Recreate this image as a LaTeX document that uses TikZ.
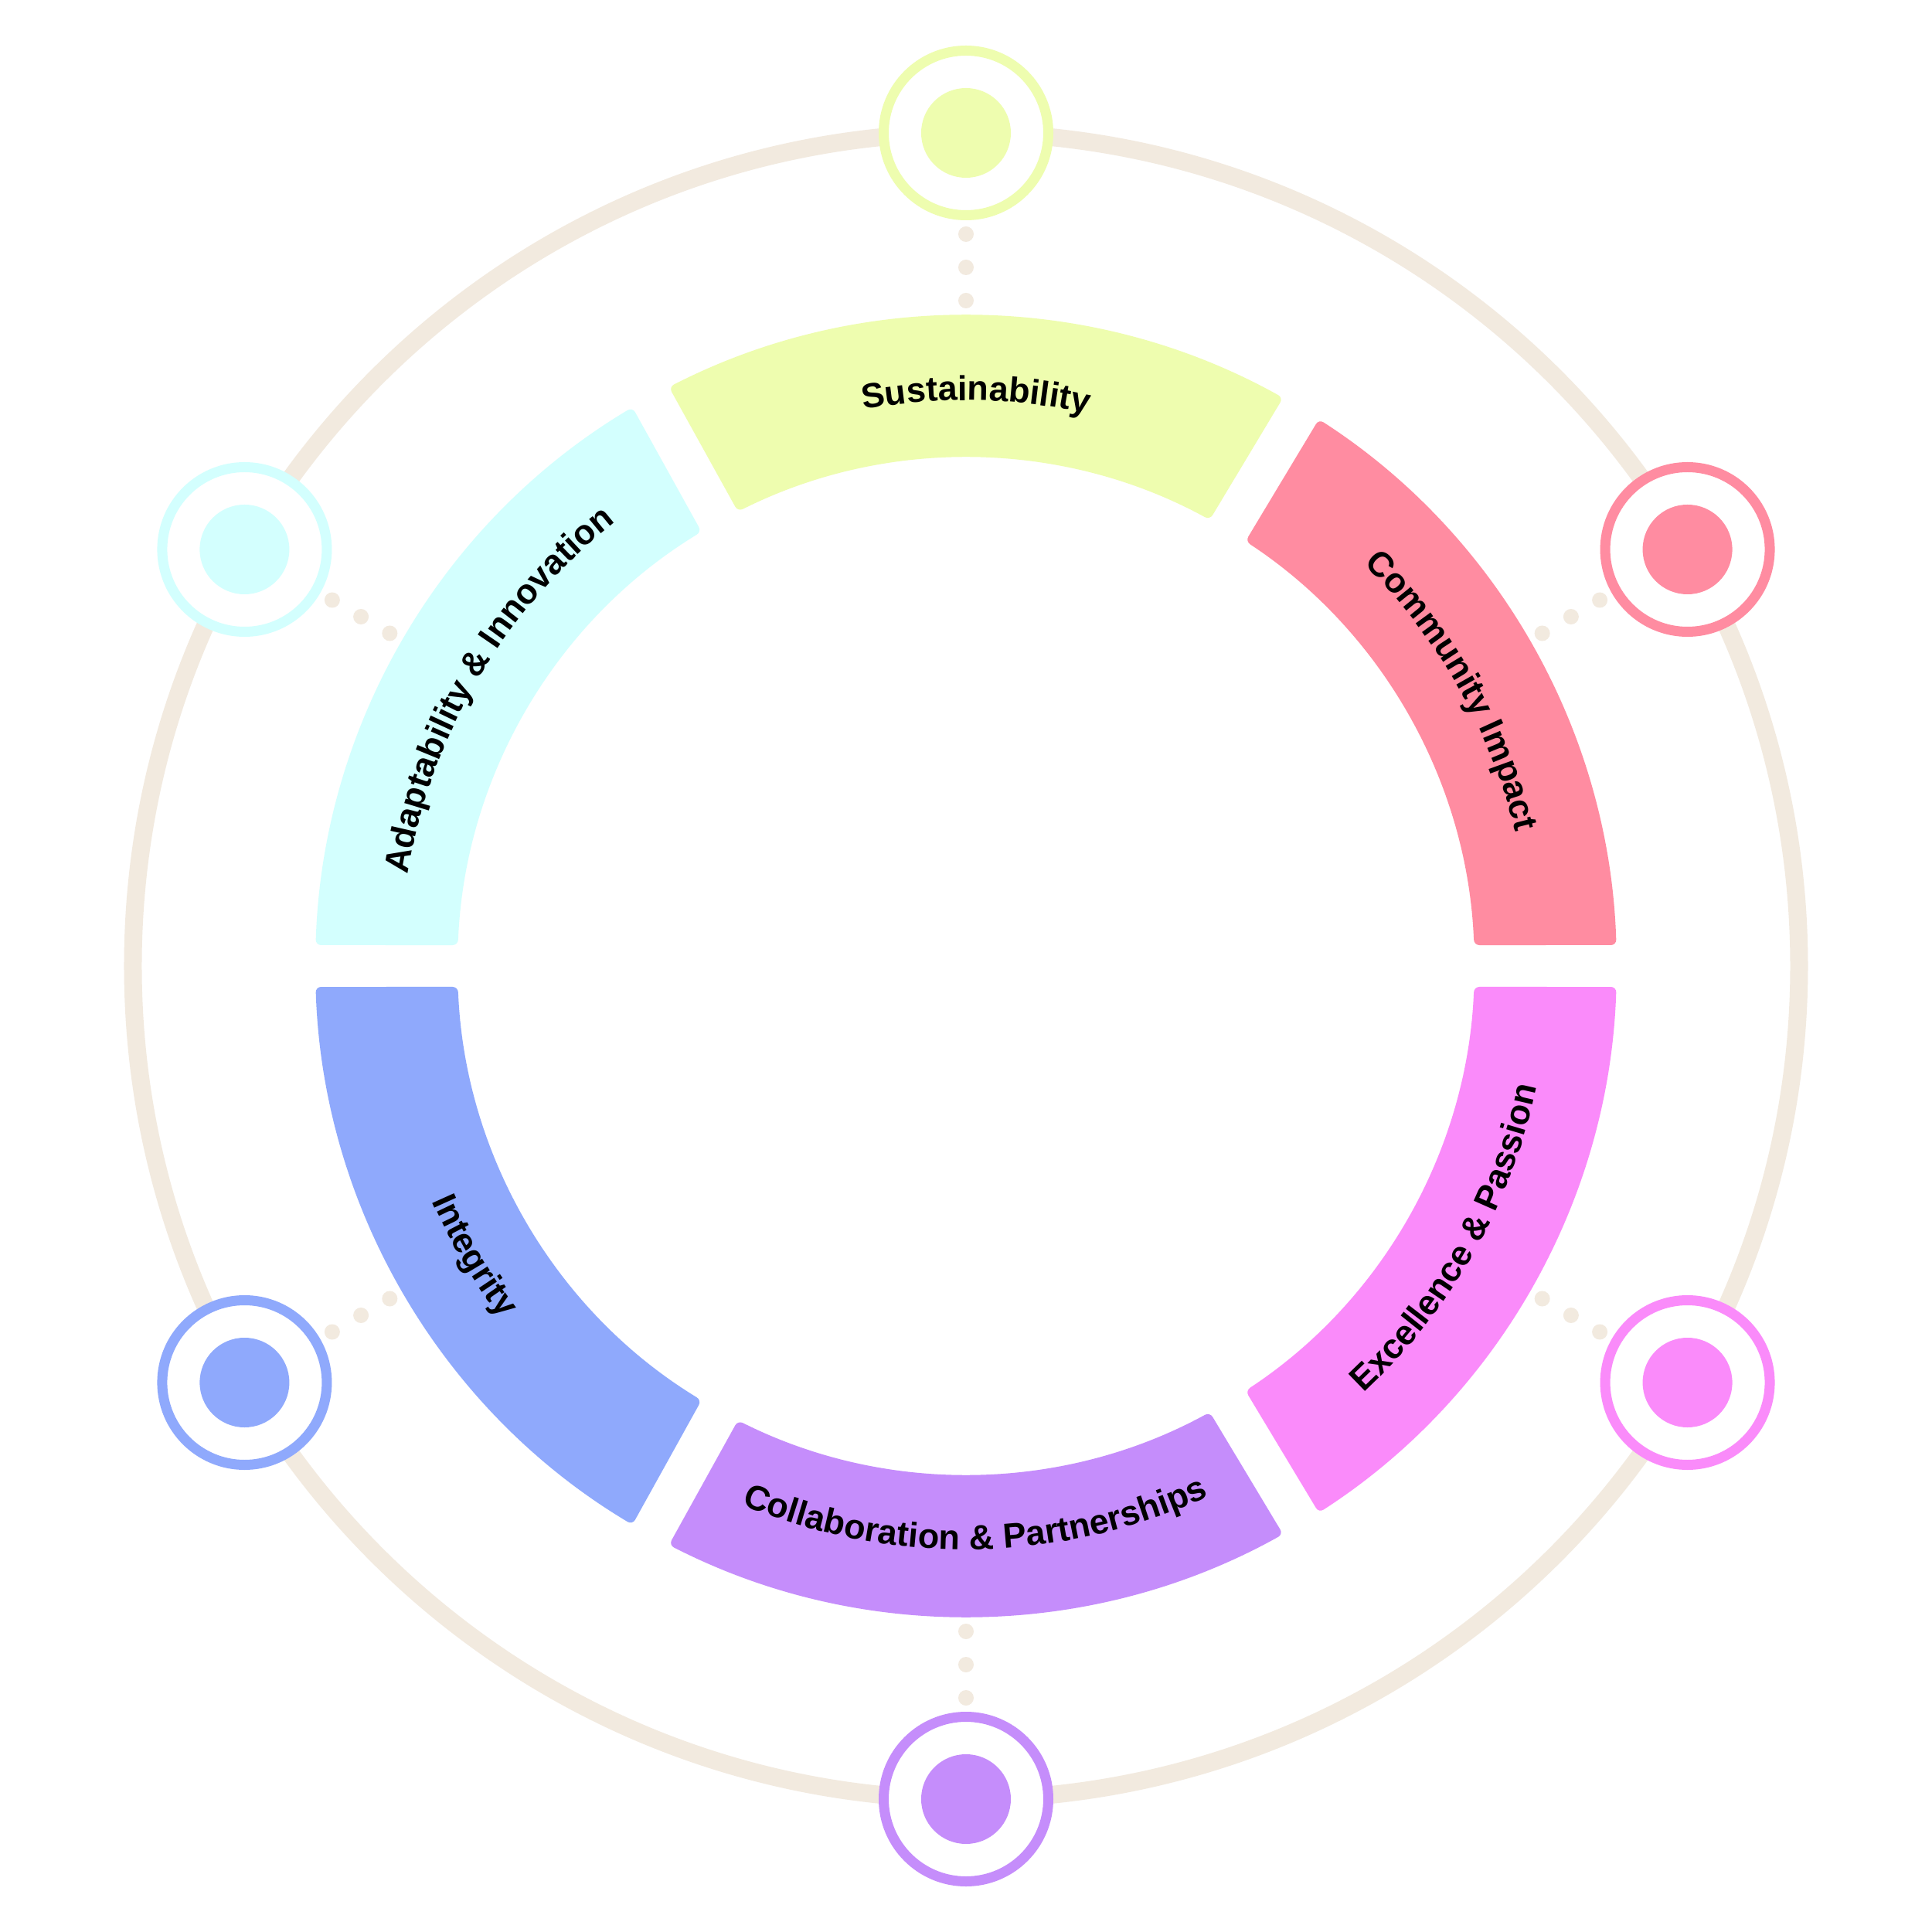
\documentclass[tikz,border=0pt]{standalone}
\usepackage{fontspec}
\setmainfont{Liberation Sans}
\usepackage{tikz}
\usetikzlibrary{positioning,calc,decorations.text}
\usepackage{xcolor}
\definecolor{ringbeige}{RGB}{242,234,223}
\definecolor{valueyellow}{RGB}{238,253,175}
\definecolor{valuepink}{RGB}{255,140,161}
\definecolor{valuemagenta}{RGB}{250,139,250}
\definecolor{valuepurple}{RGB}{197,141,251}
\definecolor{valueblue}{RGB}{143,169,252}
\definecolor{valuecyan}{RGB}{211,255,254}
\tikzset{
    outerring/.style={draw=ringbeige, line width=0.23cm},
    iconring/.style={circle, draw, fill=white, line width=0.13cm, minimum size=2.13cm, inner sep=0pt},
    icondot/.style={circle, minimum size=1.16cm, inner sep=0pt},
    dotlink/.style={draw=ringbeige, line width=0.2cm, line cap=round, dash pattern=on 0pt off 0.43cm},
    segment/.style={rounded corners=2pt},
    seglabel/.style={decorate, decoration={text along path, text align=center, text={#1}}},
}
\newcommand{\lblfont}{\bfseries\fontsize{12.8}{15}\selectfont}

\begin{document}
\begin{tikzpicture}
    \fill[white] (-12.5,-12.5) rectangle (12.5,12.5);
    \useasboundingbox (-12.5,-12.5) rectangle (12.5,12.5);

    % Outer ring
    \draw[outerring] (0,0) circle[radius=10.78];

    % Ring segments (start angle / end angle / colour)
    \foreach \a/\b/\col in {59/119/valueyellow, 0/59/valuepink, -59/0/valuemagenta, 241/301/valuepurple, 180/241/valueblue, 119/180/valuecyan}{
        \fill[segment, fill=\col] ({\b-1.84}:8.42) arc[start angle={\b-1.84}, end angle={\a+1.84}, radius=8.42]
            -- ({\a+2.35}:6.58) arc[start angle={\a+2.35}, end angle={\b-2.35}, radius=6.58] -- cycle;
    }

    % Labels
    \path[seglabel={|\lblfont|Sustainability}] (119:7.32) arc[start angle=119, end angle=59, radius=7.32];
    \path[seglabel={|\lblfont|Community Impact}] (59:7.32) arc[start angle=59, end angle=0, radius=7.32];
    \path[seglabel={|\lblfont|Excellence {\&} Passion}] (301:7.55) arc[start angle=301, end angle=360, radius=7.55];
    \path[seglabel={|\lblfont|Collaboration {\&} Partnerships}] (241:7.55) arc[start angle=241, end angle=301, radius=7.55];
    \path[seglabel={|\lblfont|Integrity}] (180:7.55) arc[start angle=180, end angle=241, radius=7.55];
    \path[seglabel={|\lblfont|Adaptability {\&} Innovation}] (180:7.32) arc[start angle=180, end angle=119, radius=7.32];

    % Icons and dotted links
    \foreach \ang/\col/\nm in {90/valueyellow/sus, 30/valuepink/com, -30/valuemagenta/exc, 270/valuepurple/col, 210/valueblue/int, 150/valuecyan/ada}{
        \node[iconring, draw=\col] (icon-\nm) at (\ang:10.78) {};
        \node[icondot, fill=\col] (dot-\nm) at (icon-\nm) {};
        \coordinate (link-\nm-a) at (\ang:8.61);
        \coordinate (link-\nm-b) at (\ang:9.48);
        \draw[dotlink] (link-\nm-a) -- (link-\nm-b);
    }
\end{tikzpicture}
\end{document}
